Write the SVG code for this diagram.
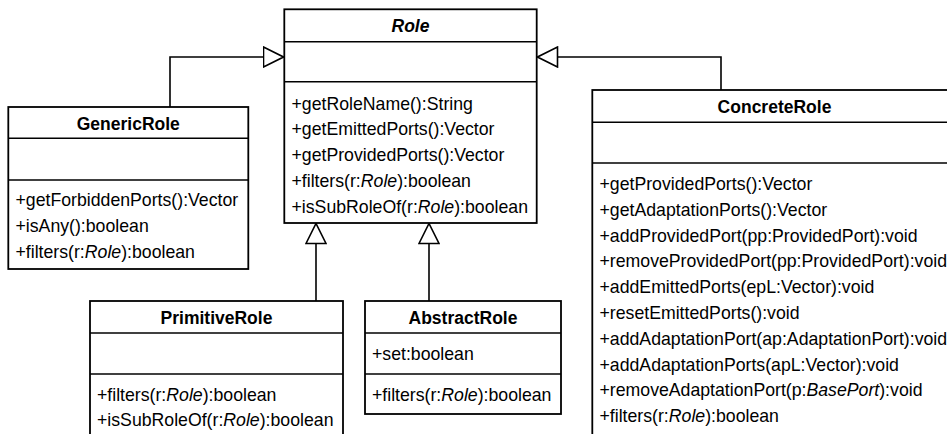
<svg xmlns="http://www.w3.org/2000/svg" width="947" height="434" viewBox="0 0 947 434">
<style>
.box{fill:#fff;stroke:#000;stroke-width:1.8}
.div{stroke:#000;stroke-width:1.6;fill:none}
.conn{stroke:#000;stroke-width:1.6;fill:none}
text{font-family:"Liberation Sans",Arial,sans-serif;font-size:17.7px;fill:#000}
.title{font-weight:bold;text-anchor:middle;font-size:17.5px}
.it{font-style:italic}
</style>
<defs>
<marker id="gen" markerUnits="userSpaceOnUse" markerWidth="22" markerHeight="22" viewBox="-1 -1 22 22" refX="20" refY="10" orient="auto">
<path d="M0,0 L20,10 L0,20 Z" fill="#fff" stroke="#000" stroke-width="1.6"/>
</marker>
</defs>
<rect width="947" height="434" fill="#fff"/>
<g id="connectors">
<path class="conn" d="M170,107 V57 H283.5" marker-end="url(#gen)"/>
<path class="conn" d="M721,90 V57 H537.5" marker-end="url(#gen)"/>
<path class="conn" d="M316,301 V223.5" marker-end="url(#gen)"/>
<path class="conn" d="M429,301 V223.5" marker-end="url(#gen)"/>
</g>
<g id="Role">
<rect class="box" x="284.3" y="9.3" width="252.4" height="213.7"/>
<line class="div" x1="284.3" y1="41.7" x2="536.7" y2="41.7"/>
<line class="div" x1="284.3" y1="81.7" x2="536.7" y2="81.7"/>
<text class="title it" x="410.5" y="32.3">Role</text>
<text x="291.5" y="109.5">+getRoleName():String</text>
<text x="291.5" y="135.3">+getEmittedPorts():Vector</text>
<text x="291.5" y="161.1">+getProvidedPorts():Vector</text>
<text x="291.5" y="186.9">+filters(r:<tspan class="it">Role</tspan>):boolean</text>
<text x="291.5" y="212.7">+isSubRoleOf(r:<tspan class="it">Role</tspan>):boolean</text>
</g>
<g id="GenericRole">
<rect class="box" x="8.3" y="107" width="240" height="162"/>
<line class="div" x1="8.3" y1="138.3" x2="248.3" y2="138.3"/>
<line class="div" x1="8.3" y1="180" x2="248.3" y2="180"/>
<text class="title" x="128.3" y="130">GenericRole</text>
<text x="15.5" y="206">+getForbiddenPorts():Vector</text>
<text x="15.5" y="231.8">+isAny():boolean</text>
<text x="15.5" y="257.6">+filters(r:<tspan class="it">Role</tspan>):boolean</text>
</g>
<g id="ConcreteRole">
<rect class="box" x="592.3" y="90" width="364.4" height="360"/>
<line class="div" x1="592.3" y1="122.3" x2="956.7" y2="122.3"/>
<line class="div" x1="592.3" y1="163" x2="956.7" y2="163"/>
<text class="title" x="774.5" y="113">ConcreteRole</text>
<text x="599.5" y="190">+getProvidedPorts():Vector</text>
<text x="599.5" y="215.8">+getAdaptationPorts():Vector</text>
<text x="599.5" y="241.6">+addProvidedPort(pp:ProvidedPort):void</text>
<text x="599.5" y="267.4">+removeProvidedPort(pp:ProvidedPort):void</text>
<text x="599.5" y="293.2">+addEmittedPorts(epL:Vector):void</text>
<text x="599.5" y="319">+resetEmittedPorts():void</text>
<text x="599.5" y="344.8">+addAdaptationPort(ap:AdaptationPort):void</text>
<text x="599.5" y="370.6">+addAdaptationPorts(apL:Vector):void</text>
<text x="599.5" y="396.4">+removeAdaptationPort(p:<tspan class="it">BasePort</tspan>):void</text>
<text x="599.5" y="422.2">+filters(r:<tspan class="it">Role</tspan>):boolean</text>
</g>
<g id="PrimitiveRole">
<rect class="box" x="90" y="301" width="253" height="160"/>
<line class="div" x1="90" y1="333" x2="343" y2="333"/>
<line class="div" x1="90" y1="374" x2="343" y2="374"/>
<text class="title" x="216.5" y="324">PrimitiveRole</text>
<text x="97" y="400.5">+filters(r:<tspan class="it">Role</tspan>):boolean</text>
<text x="97" y="426.3">+isSubRoleOf(r:<tspan class="it">Role</tspan>):boolean</text>
</g>
<g id="AbstractRole">
<rect class="box" x="365" y="301" width="196" height="113"/>
<line class="div" x1="365" y1="333" x2="561" y2="333"/>
<line class="div" x1="365" y1="374" x2="561" y2="374"/>
<text class="title" x="463" y="324">AbstractRole</text>
<text x="372" y="359.5">+set:boolean</text>
<text x="372" y="400.5">+filters(r:<tspan class="it">Role</tspan>):boolean</text>
</g>
</svg>
